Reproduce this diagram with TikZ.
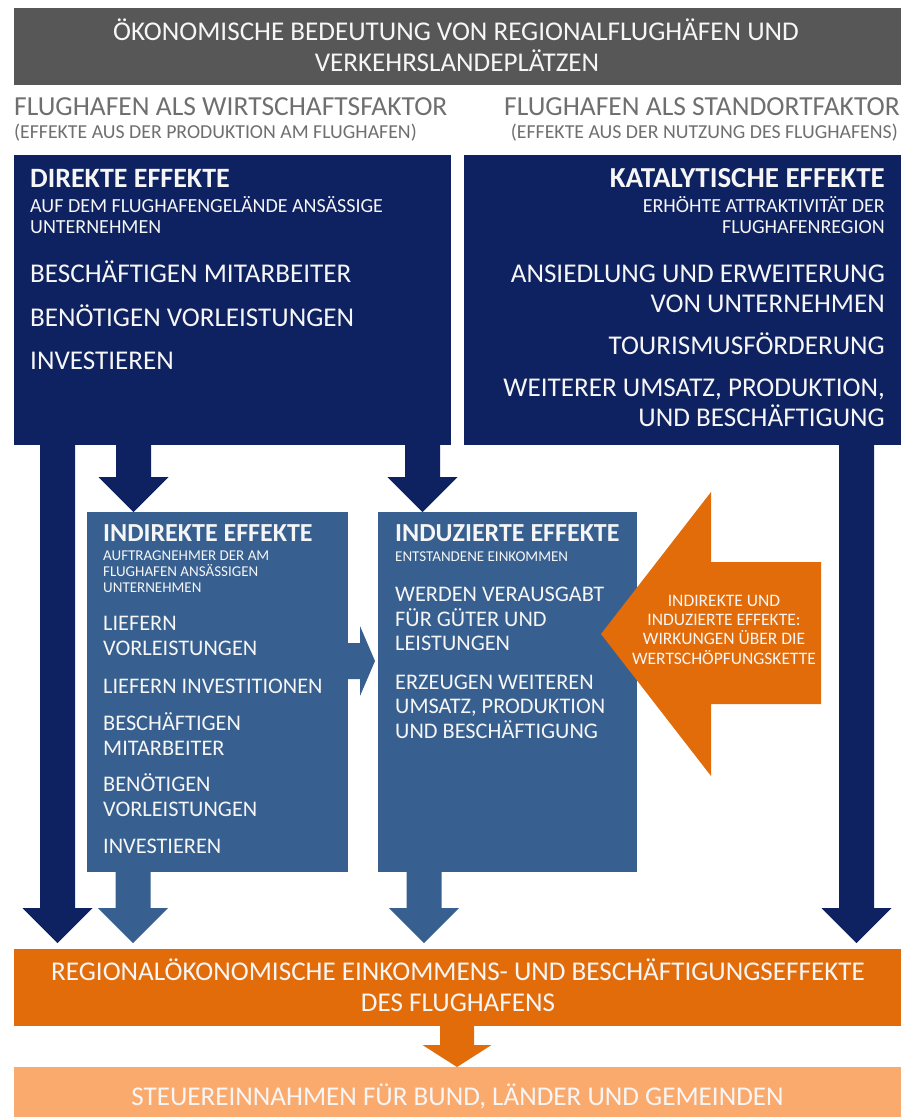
\documentclass[tikz,border=0pt]{standalone}
\usepackage{fontspec}
\setmainfont{Carlito}
\usepackage{tikz}
\definecolor{navy}{HTML}{0E2160}
\definecolor{mittelblau}{HTML}{375F8F}
\definecolor{dunkelorange}{HTML}{E36C0A}
\definecolor{hellorange}{HTML}{FBAA6E}
\definecolor{titelgrau}{HTML}{575757}
\definecolor{textgrau}{HTML}{6F6F6F}
\definecolor{weiss}{HTML}{F6F6F6}

\begin{document}
\begin{tikzpicture}[x=1pt,y=-1pt,
	kasten/.style={anchor=north west,inner sep=0pt,outer sep=0pt},
	txt/.style={inner sep=0pt,text=weiss},
	gross/.style={txt,font=\fontsize{27.1}{30}\selectfont},
	fett/.style={txt,font=\bfseries\fontsize{28}{30}\selectfont},
	klein/.style={txt,font=\fontsize{20}{22}\selectfont},
	mittel/.style={txt,font=\fontsize{22.3}{24}\selectfont},
	fettm/.style={txt,font=\bfseries\fontsize{26}{28}\selectfont},
	mini/.style={txt,font=\fontsize{15}{16}\selectfont},
	grau/.style={inner sep=0pt,text=textgrau}]

	\useasboundingbox (0,0) rectangle (901,1117);

	% Kaesten
	\node[kasten,fill=titelgrau,minimum width=887,minimum height=77] (titel) at (14,8) {};
	\node[kasten,fill=navy,minimum width=437,minimum height=290] (direkt) at (14,155) {};
	\node[kasten,fill=navy,minimum width=437,minimum height=290] (kataly) at (464,155) {};
	\node[kasten,fill=mittelblau,minimum width=261,minimum height=360] (indirekt) at (87,512) {};
	\node[kasten,fill=mittelblau,minimum width=259,minimum height=360] (induziert) at (378,512) {};
	\node[kasten,fill=dunkelorange,minimum width=887,minimum height=77] (region) at (14,949) {};
	\node[kasten,fill=hellorange,minimum width=887,minimum height=50] (steuer) at (14,1067) {};

	% Pfeile nach unten
	\fill[navy] ([xshift=26pt]direkt.south west) -- ++(35,0) -- ++(0,463) -- ++(17.5,0) -- ++(-35,35) -- ++(-35,-35) -- ++(17.5,0) -- cycle;
	\fill[navy] ([xshift=102pt]direkt.south west) -- ++(35,0) -- ++(0,32) -- ++(17.5,0) -- ++(-35,35) -- ++(-35,-35) -- ++(17.5,0) -- cycle;
	\fill[navy] ([xshift=391pt]direkt.south west) -- ++(35,0) -- ++(0,32) -- ++(17.5,0) -- ++(-35,35) -- ++(-35,-35) -- ++(17.5,0) -- cycle;
	\fill[navy] ([xshift=375pt]kataly.south west) -- ++(35,0) -- ++(0,463) -- ++(17.5,0) -- ++(-35,35) -- ++(-35,-35) -- ++(17.5,0) -- cycle;
	\fill[mittelblau] ([xshift=28.5pt]indirekt.south west) -- ++(35,0) -- ++(0,36) -- ++(17.5,0) -- ++(-35,35) -- ++(-35,-35) -- ++(17.5,0) -- cycle;
	\fill[mittelblau] ([xshift=28.5pt]induziert.south west) -- ++(35,0) -- ++(0,36) -- ++(17.5,0) -- ++(-35,35) -- ++(-35,-35) -- ++(17.5,0) -- cycle;
	\fill[dunkelorange] ([xshift=426pt]region.south west) -- ++(34,0) -- ++(0,19) -- ++(17.5,0) -- ++(-34.5,22) -- ++(-34.5,-22) -- ++(17.5,0) -- cycle;

	% indirekt -> induziert, Wertschoepfungskette
	\fill[mittelblau] (indirekt.north east) ++(0,131) -- ++(12,0) -- ++(0,-17) -- ++(15,35) -- ++(-15,35) -- ++(0,-17) -- ++(-12,0) -- cycle;
	\fill[dunkelorange] (601,634) -- ++(110,-142) -- ++(0,70) -- ++(110,0) -- ++(0,142) -- ++(-110,0) -- ++(0,72) -- cycle;

	% Texte
	\node[gross,anchor=base] (titel1) at (456,40) {ÖKONOMISCHE BEDEUTUNG VON REGIONALFLUGHÄFEN UND};
	\node[gross,anchor=base] (titel2) at (457,71) {VERKEHRSLANDEPLÄTZEN};

	\node[grau,font=\fontsize{27.5}{28}\selectfont,anchor=base west] (wirt) at (14,115) {FLUGHAFEN ALS WIRTSCHAFTSFAKTOR};
	\node[grau,font=\fontsize{19.8}{20}\selectfont,anchor=base west] (wirt2) at (14,138) {(EFFEKTE AUS DER PRODUKTION AM FLUGHAFEN)};
	\node[grau,font=\fontsize{27.5}{28}\selectfont,anchor=base east] (stand) at (900,115) {FLUGHAFEN ALS STANDORTFAKTOR};
	\node[grau,font=\fontsize{19.8}{20}\selectfont,anchor=base east] (stand2) at (898,138) {(EFFEKTE AUS DER NUTZUNG DES FLUGHAFENS)};

	\node[fett,anchor=base west] (direkt-kopf) at (30,187) {DIREKTE EFFEKTE};
	\node[klein,anchor=base west] (direkt-a) at (30,212) {AUF DEM FLUGHAFENGELÄNDE ANSÄSSIGE};
	\node[klein,anchor=base west] (direkt-b) at (30,233.5) {UNTERNEHMEN};
	\foreach \y/\t [count=\i] in {282.7/BESCHÄFTIGEN MITARBEITER,326/BENÖTIGEN VORLEISTUNGEN,369/INVESTIEREN}
		\node[gross,anchor=base west] (direkt-\i) at (30,\y) {\t};

	\node[fett,font=\bfseries\fontsize{29}{30}\selectfont,anchor=base east] (kataly-kopf) at (885,187) {KATALYTISCHE EFFEKTE};
	\node[klein,anchor=base east] (kataly-a) at (885,212) {ERHÖHTE ATTRAKTIVITÄT DER};
	\node[klein,anchor=base east] (kataly-b) at (885,233.5) {FLUGHAFENREGION};
	\foreach \y/\t [count=\i] in {282.7/ANSIEDLUNG UND ERWEITERUNG,312.7/VON UNTERNEHMEN,354/TOURISMUSFÖRDERUNG,{396.7/WEITERER UMSATZ, PRODUKTION,},426.7/UND BESCHÄFTIGUNG}
		\node[gross,anchor=base east] (kataly-\i) at (885,\y) {\t};

	\node[fettm,anchor=base west] (indirekt-kopf) at (103,541) {INDIREKTE EFFEKTE};
	\foreach \y/\t [count=\i] in {560/AUFTRAGNEHMER DER AM,576/FLUGHAFEN ANSÄSSIGEN,592/UNTERNEHMEN}
		\node[mini,anchor=base west] (indirekt-a\i) at (103,\y) {\t};
	\foreach \y/\t [count=\i] in {630.7/LIEFERN,655/VORLEISTUNGEN,693.3/LIEFERN INVESTITIONEN,730.7/BESCHÄFTIGEN,755/MITARBEITER,791/BENÖTIGEN,816/VORLEISTUNGEN,853.3/INVESTIEREN}
		\node[mittel,anchor=base west] (indirekt-\i) at (103,\y) {\t};

	\node[fettm,anchor=base west] (induziert-kopf) at (395,541) {INDUZIERTE EFFEKTE};
	\node[mini,anchor=base west] (induziert-a) at (395,561) {ENTSTANDENE EINKOMMEN};
	\foreach \y/\t [count=\i] in {601.7/WERDEN VERAUSGABT,626/FÜR GÜTER UND,650/LEISTUNGEN,689/ERZEUGEN WEITEREN,{713.5/UMSATZ, PRODUKTION},738/UND BESCHÄFTIGUNG}
		\node[mittel,anchor=base west] (induziert-\i) at (395,\y) {\t};

	\foreach \y/\t [count=\i] in {606/INDIREKTE UND,625.5/INDUZIERTE EFFEKTE:,644.5/WIRKUNGEN ÜBER DIE,664/WERTSCHÖPFUNGSKETTE}
		\node[txt,font=\fontsize{17.5}{19}\selectfont,anchor=base] (kette-\i) at (724,\y) {\t};

	\node[gross,anchor=base] (region1) at (458,980.7) {REGIONALÖKONOMISCHE EINKOMMENS- UND BESCHÄFTIGUNGSEFFEKTE};
	\node[gross,anchor=base] (region2) at (458,1011.7) {DES FLUGHAFENS};
	\node[gross,anchor=base] (steuer1) at (457.5,1105) {STEUEREINNAHMEN FÜR BUND, LÄNDER UND GEMEINDEN};
\end{tikzpicture}
\end{document}
